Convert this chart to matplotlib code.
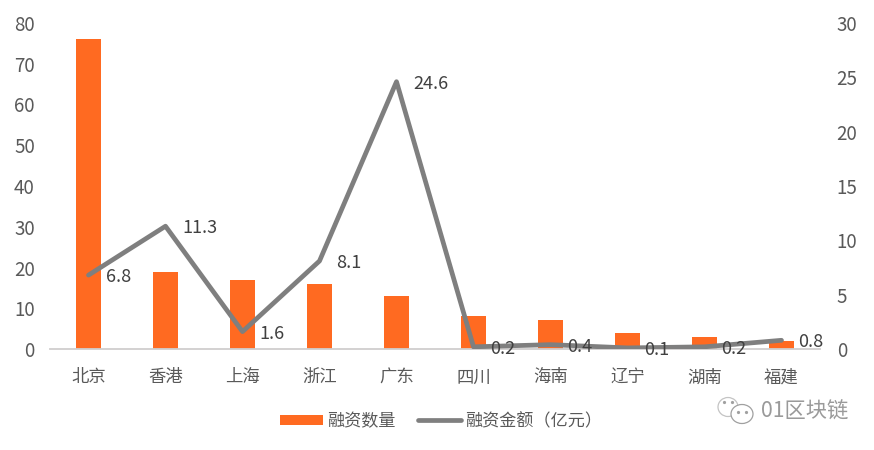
import matplotlib
matplotlib.use('Agg')
import matplotlib.pyplot as plt
from matplotlib.patches import Ellipse

plt.rcParams['font.family'] = ['Noto Sans CJK SC', 'DejaVu Sans']

categories = ['北京', '香港', '上海', '浙江', '广东', '四川', '海南', '辽宁', '湖南', '福建']
counts = [76, 19, 17, 16, 13, 8, 7, 4, 3, 2]
amounts = [6.8, 11.3, 1.6, 8.1, 24.6, 0.2, 0.4, 0.1, 0.2, 0.8]
amount_labels = ['6.8', '11.3', '1.6', '8.1', '24.6', '0.2', '0.4', '0.1', '0.2', '0.8']
left_ticks = [0, 10, 20, 30, 40, 50, 60, 70, 80]
right_ticks = [0, 5, 10, 15, 20, 25, 30]
bar_name = '融资数量'
line_name = '融资金额（亿元）'
watermark = '01区块链'

W, H = 874, 450
ORANGE = '#FF6A21'
GREY = '#7F7F7F'
TXT = '#595959'

fig = plt.figure(figsize=(W / 100, H / 100), dpi=100, facecolor='white')
ax = fig.add_axes([50 / W, 1 - 349 / H, 770 / W, 326 / H])
x = list(range(len(categories)))
bars = ax.bar(x, counts, width=0.325, color=ORANGE, label=bar_name, zorder=2)
ax.set_xlim(-0.5, len(categories) - 0.5)
ax.set_ylim(0, 80)
ax.set_yticks(left_ticks)
ax.set_xticks(x, categories)
ax.tick_params(axis='both', length=0, colors=TXT)
ax.tick_params(axis='y', labelsize=13.5, pad=11)
ax.tick_params(axis='x', labelsize=12.5, pad=14)
for s in ['top', 'left', 'right']:
    ax.spines[s].set_visible(False)
ax.spines['bottom'].set_color('#D0CECE')
ax.spines['bottom'].set_linewidth(1.3)

ax2 = ax.twinx()
line, = ax2.plot(x, amounts, color=GREY, lw=3.4, label=line_name, zorder=3,
                 solid_joinstyle='round', solid_capstyle='round')
ax2.set_ylim(0, 30)
ax2.set_yticks(right_ticks)
ax2.tick_params(axis='y', length=0, labelsize=13.5, colors=TXT, pad=12)
for s in ax2.spines.values():
    s.set_visible(False)

for xi, v, lab in zip(x, amounts, amount_labels):
    ax2.annotate(lab, (xi, v), xytext=(17, -2), textcoords='offset pixels',
                 ha='left', va='center', fontsize=13, color='#404040', zorder=4,
                 annotation_clip=False)

fig.legend(handles=[bars, line], labels=[bar_name, line_name], loc='center',
           bbox_to_anchor=(441 / W, 1 - 421 / H), ncol=2, frameon=False,
           fontsize=12.3, labelcolor=TXT, handlelength=2.5, handleheight=0.55,
           handletextpad=0.25, columnspacing=1.3)

# WeChat-style watermark
wm = fig.add_axes([0, 0, 1, 1], facecolor='none')
wm.set_xlim(0, W)
wm.set_ylim(H, 0)
wm.axis('off')
wm.add_patch(Ellipse((728, 407), 20, 19, fill=False, ec='#C4C4C4', lw=0.9))
wm.add_patch(Ellipse((742, 414), 22, 19, fc='white', ec='#A0A0A0', lw=0.9))
wm.plot([724, 732, 738, 746], [402, 402, 412, 412], ls='none', marker='o', ms=1.3, color='#A0A0A0')
wm.text(761, 411.5, watermark, fontsize=15.3, color='#9A9A9A', ha='left', va='center')

fig.savefig('out.png', dpi=100, facecolor='white')
